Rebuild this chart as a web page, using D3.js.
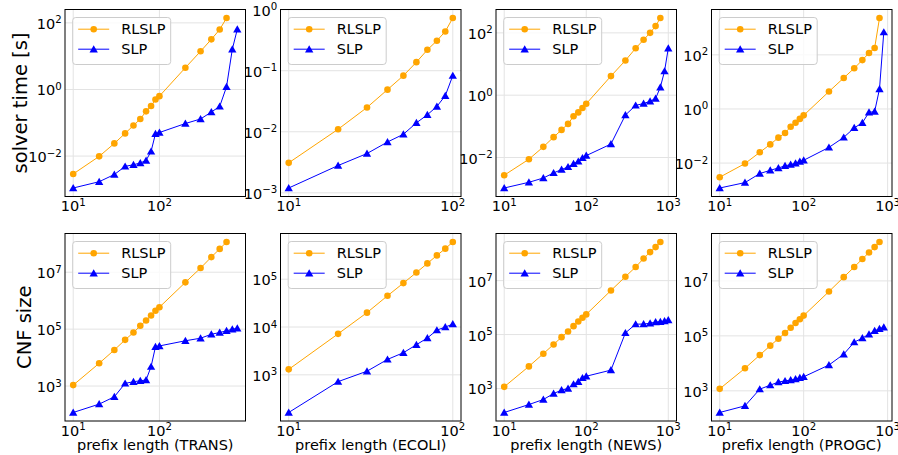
<!DOCTYPE html>
<html>
<head>
<meta charset="utf-8">
<script src="https://cdn.jsdelivr.net/npm/d3@7/dist/d3.min.js"></script>
<style>
  body { margin: 0; background: #fff; }
  svg text { font-family: "DejaVu Sans", sans-serif; fill: #000; }
</style>
</head>
<body>
<svg id="chart" width="898" height="455"></svg>
<script>
var datasets = ["TRANS", "ECOLI", "NEWS", "PROGC"];
var methods = ["RLSLP", "SLP"];

// prefix lengths tested per dataset (RLSLP runs stop earlier, see value arrays)
var prefixTrans = [10, 20, 30, 40, 50, 60, 70, 80, 90, 100, 200, 300, 400, 500, 600, 700, 800];
var prefixEcoli = [10, 20, 30, 40, 50, 60, 70, 80, 90, 100];
var prefixNews = [10, 20, 30, 40, 50, 60, 70, 80, 90, 100, 200, 300, 400, 500, 600, 700, 800, 900, 1000];
var prefixProgc = [10, 20, 30, 40, 50, 60, 70, 80, 90, 100, 200, 300, 400, 500, 600, 700, 800, 900];

// solver time [s]
var timeTransRL = [0.0029, 0.0098, 0.024, 0.048, 0.083, 0.13, 0.22, 0.32, 0.50, 0.63, 4.5, 14, 32, 63, 140];
var timeTransSLP = [0.0011, 0.0017, 0.0028, 0.0049, 0.0055, 0.0062, 0.0074, 0.0138, 0.047, 0.051, 0.095, 0.13, 0.21, 0.31, 1.2, 16, 64];
var timeEcoliRL = [0.0031, 0.011, 0.025, 0.049, 0.083, 0.138, 0.22, 0.31, 0.44, 0.73];
var timeEcoliSLP = [0.0012, 0.0028, 0.0044, 0.0068, 0.0091, 0.014, 0.019, 0.026, 0.039, 0.083];
var timeNewsRL = [0.0027, 0.0088, 0.022, 0.045, 0.077, 0.12, 0.21, 0.28, 0.39, 0.53, 4.1, 13, 32, 60, 100, 165, 300];
var timeNewsSLP = [0.00105, 0.0016, 0.0022, 0.0032, 0.0041, 0.005, 0.0063, 0.0075, 0.0097, 0.0115, 0.027, 0.23, 0.47, 0.54, 0.64, 0.78, 1.8, 5.9, 32];
var timeProgcRL = [0.003, 0.0096, 0.025, 0.049, 0.087, 0.13, 0.22, 0.31, 0.43, 0.58, 4.4, 14, 32, 64, 117, 178, 2300];
var timeProgcSLP = [0.0012, 0.0019, 0.0041, 0.0054, 0.0066, 0.0079, 0.0088, 0.0098, 0.0114, 0.0127, 0.038, 0.089, 0.20, 0.31, 0.75, 0.8, 5.5, 690];

// CNF size
var cnfTransRL = [1080, 6300, 18600, 42000, 76000, 131000, 200000, 300000, 440000, 590000, 4.4e6, 1.4e7, 3.4e7, 6.6e7, 1.15e8];
var cnfTransSLP = [118, 232, 420, 1240, 1420, 1540, 1630, 4800, 24000, 25700, 39000, 48000, 66000, 76000, 87000, 99000, 107000];
var cnfEcoliRL = [1300, 7200, 20000, 45000, 83000, 138000, 214000, 315000, 436000, 600000];
var cnfEcoliSLP = [163, 720, 1190, 2100, 2900, 4260, 5900, 8600, 10000, 11500];
var cnfNewsRL = [1150, 6600, 19500, 43000, 80000, 130000, 205000, 306000, 420000, 560000, 4.3e6, 1.4e7, 3.2e7, 6.6e7, 1.14e8, 1.75e8, 2.7e8];
var cnfNewsSLP = [129, 254, 390, 650, 870, 1000, 1450, 1760, 2470, 2850, 4800, 115000, 243000, 245000, 263000, 290000, 300000, 316000, 345000];
var cnfProgcRL = [1180, 6600, 20000, 44000, 79000, 127000, 198000, 295000, 403000, 546000, 4.1e6, 1.37e7, 3.2e7, 6.3e7, 1.08e8, 1.7e8, 2.6e8];
var cnfProgcSLP = [163, 284, 1150, 1610, 2080, 2300, 2460, 2670, 2980, 3240, 8700, 21500, 59000, 83000, 115000, 152000, 180000, 206000];

var prefixes = [prefixTrans, prefixEcoli, prefixNews, prefixProgc];
var timeRows = [[timeTransRL, timeTransSLP], [timeEcoliRL, timeEcoliSLP], [timeNewsRL, timeNewsSLP], [timeProgcRL, timeProgcSLP]];
var cnfRows = [[cnfTransRL, cnfTransSLP], [cnfEcoliRL, cnfEcoliSLP], [cnfNewsRL, cnfNewsSLP], [cnfProgcRL, cnfProgcSLP]];

var colors = { RLSLP: "#ffa500", SLP: "#0000ff" };
var panelLeft = [65, 280.5, 496, 711.5];
var panelWidth = 180.5;
var rows = [
	{ top: 9.5, bottom: 196.5, label: "solver time [s]", labelX: 26.5, data: timeRows },
	{ top: 233.5, bottom: 421, label: "CNF size", labelX: 31, data: cnfRows }
];

var svg = d3.select("#chart");
var tri = d3.symbol().type(d3.symbolTriangle).size(30);

// matplotlib style padded log domain (5% margin in log space)
var paddedLog = function(values) {
	var lo = Math.log10(d3.min(values)), hi = Math.log10(d3.max(values));
	var m = (hi - lo) * 0.05;
	return [Math.pow(10, lo - m), Math.pow(10, hi + m)];
};

// decades that get a label; skip every other one when the range is wide
var majorExps = function(domain, numticks) {
	var lo = Math.log10(domain[0]), hi = Math.log10(domain[1]);
	var numdec = Math.ceil(hi) - Math.floor(lo);
	var stride = Math.floor(numdec / numticks) + 1;
	var out = [];
	for (var e = Math.floor(lo) - stride; e <= Math.ceil(hi) + stride; e += stride) {
		if (e >= lo - 1e-9 && e <= hi + 1e-9) out.push(e);
	}
	return out;
};

var expLabel = function(sel, e) {
	sel.text("10");
	sel.append("tspan")
		.attr("dy", -5.5)
		.attr("font-size", "10.2px")
		.text(e < 0 ? "\u2212" + Math.abs(e) : e);
};

rows.forEach(function(row, r) {
	var h = row.bottom - row.top;

	datasets.forEach(function(name, c) {
		var prefix = prefixes[c];
		var series = row.data[c];
		var allY = d3.merge(series);
		var x = d3.scaleLog().domain(paddedLog(prefix)).range([0, panelWidth]);
		var y = d3.scaleLog().domain(paddedLog(allY)).range([h, 0]);

		var g = svg.append("g").attr("transform", "translate(" + panelLeft[c] + "," + row.top + ")");

		var xe = majorExps(x.domain(), 9);
		var ye = majorExps(y.domain(), 6);

		// grid
		g.selectAll(".gx").data(xe).enter().append("line")
			.attr("x1", function(e) { return x(Math.pow(10, e)); })
			.attr("x2", function(e) { return x(Math.pow(10, e)); })
			.attr("y1", 0).attr("y2", h)
			.attr("stroke", "#e3e3e3").attr("stroke-width", 1);
		g.selectAll(".gy").data(ye).enter().append("line")
			.attr("y1", function(e) { return y(Math.pow(10, e)); })
			.attr("y2", function(e) { return y(Math.pow(10, e)); })
			.attr("x1", 0).attr("x2", panelWidth)
			.attr("stroke", "#e3e3e3").attr("stroke-width", 1);

		// tick labels
		g.selectAll(".tx").data(xe).enter().append("text")
			.attr("x", function(e) { return x(Math.pow(10, e)); })
			.attr("y", h + 14.5)
			.attr("text-anchor", "middle")
			.attr("font-size", "14.5px")
			.each(function(e) { expLabel(d3.select(this), e); });
		g.selectAll(".ty").data(ye).enter().append("text")
			.attr("x", -3.3)
			.attr("y", function(e) { return y(Math.pow(10, e)) + 6; })
			.attr("text-anchor", "end")
			.attr("font-size", "14.5px")
			.each(function(e) { expLabel(d3.select(this), e); });

		var clip = "clip-" + r + "-" + c;
		g.append("clipPath").attr("id", clip).append("rect")
			.attr("width", panelWidth).attr("height", h);
		var plot = g.append("g").attr("clip-path", "url(#" + clip + ")");

		methods.forEach(function(m, k) {
			var pts = series[k].map(function(v, i) { return [prefix[i], v]; });
			var line = d3.line()
				.x(function(d) { return x(d[0]); })
				.y(function(d) { return y(d[1]); });
			plot.append("path")
				.attr("d", line(pts))
				.attr("fill", "none")
				.attr("stroke", colors[m])
				.attr("stroke-width", 1);
			if (m === "RLSLP") {
				plot.selectAll(".dot").data(pts).enter().append("circle")
					.attr("cx", function(d) { return x(d[0]); })
					.attr("cy", function(d) { return y(d[1]); })
					.attr("r", 3.3)
					.attr("fill", colors[m]);
			} else {
				plot.selectAll(".tri").data(pts).enter().append("path")
					.attr("d", tri)
					.attr("transform", function(d) { return "translate(" + x(d[0]) + "," + (y(d[1]) + 0.8) + ")"; })
					.attr("fill", colors[m]);
			}
		});

		// frame
		g.append("rect")
			.attr("width", panelWidth).attr("height", h)
			.attr("fill", "none").attr("stroke", "#000").attr("stroke-width", 1);

		// legend
		var lg = g.append("g").attr("transform", "translate(7.7,8)");
		lg.append("rect")
			.attr("width", 98).attr("height", 47).attr("rx", 3)
			.attr("fill", "#fff").attr("fill-opacity", 0.8)
			.attr("stroke", "#cccccc").attr("stroke-width", 1);
		methods.forEach(function(m, k) {
			var ly = 11.7 + k * 20;
			lg.append("line")
				.attr("x1", 5.5).attr("x2", 36.5).attr("y1", ly).attr("y2", ly)
				.attr("stroke", colors[m]).attr("stroke-width", 1);
			if (m === "RLSLP") {
				lg.append("circle").attr("cx", 21).attr("cy", ly).attr("r", 3.3).attr("fill", colors[m]);
			} else {
				lg.append("path").attr("d", tri)
					.attr("transform", "translate(21," + (ly + 0.8) + ")")
					.attr("fill", colors[m]);
			}
			lg.append("text")
				.attr("x", 48.5).attr("y", ly + 5.2)
				.attr("font-size", "14.5px")
				.text(m);
		});

		if (r === 1) {
			svg.append("text")
				.attr("x", panelLeft[c] + panelWidth / 2)
				.attr("y", 450)
				.attr("text-anchor", "middle")
				.attr("font-size", "14.5px")
				.text("prefix length (" + name + ")");
		}
	});

	svg.append("text")
		.attr("transform", "translate(" + row.labelX + "," + (row.top + h / 2) + ") rotate(-90)")
		.attr("text-anchor", "middle")
		.attr("font-size", "19.5px")
		.text(row.label);
});
</script>
</body>
</html>
